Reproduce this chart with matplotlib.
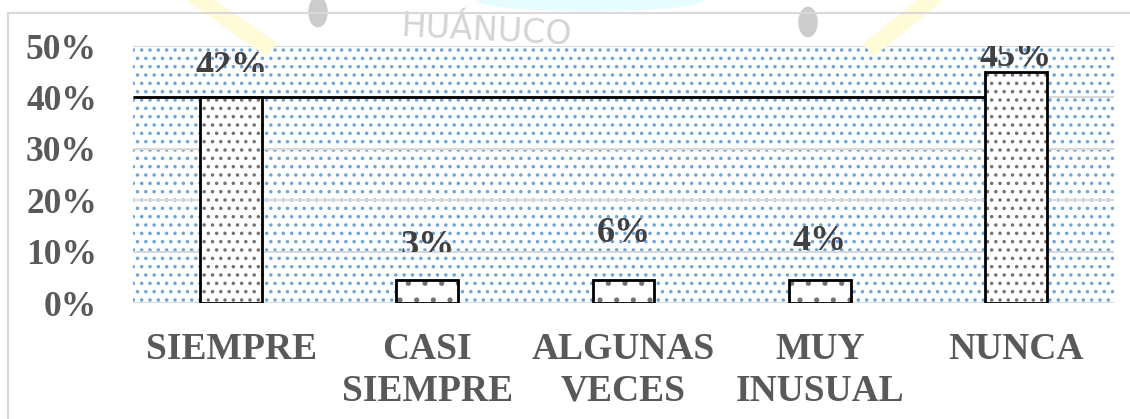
"""
bar chart: frecuencia de respuestas
"""
import matplotlib
matplotlib.use("Agg")
import matplotlib.pyplot as plt
from matplotlib.patches import Rectangle, Ellipse

categories = ["SIEMPRE", "CASI\nSIEMPRE", "ALGUNAS\nVECES", "MUY\nINUSUAL", "NUNCA"]
bar_heights = [40, 4.5, 4.5, 4.5, 45]
label_values = [42, 3, 6, 4, 45]
label_y = [44.2, 9.4, 11.9, 10.3, 46.1]
yticks = [0, 10, 20, 30, 40, 50]
ref_line = 40

fig = plt.figure(figsize=(11.3, 4.19), dpi=100)
plt.rcParams["font.family"] = ["Liberation Serif", "DejaVu Serif"]
plt.rcParams["hatch.linewidth"] = 1.3

# faint watermark bits behind the chart
fig.patches.append(Ellipse((318 / 1130, 1 - 12 / 419), 0.016, 0.07, transform=fig.transFigure,
                           color="#cccccc", zorder=0))
fig.patches.append(Ellipse((808 / 1130, 1 - 22 / 419), 0.016, 0.07, transform=fig.transFigure,
                           color="#cccccc", zorder=0))
fig.patches.append(Ellipse((590 / 1130, 1.0), 0.2, 0.05, transform=fig.transFigure,
                           color="#e6fcff", zorder=0))
fig.lines.append(plt.Line2D([200 / 1130, 265 / 1130], [1.0, 1 - 45 / 419], transform=fig.transFigure,
                            color="#fffbd6", lw=12, zorder=0))
fig.lines.append(plt.Line2D([930 / 1130, 875 / 1130], [1.0, 1 - 45 / 419], transform=fig.transFigure,
                            color="#fffbd6", lw=12, zorder=0))
fig.text(400 / 1130, 1 - 45 / 419, "HUÁNUCO", fontsize=24, color="#d4d4d4",
         family="DejaVu Sans", rotation=-3, zorder=0)

# outer chart border
fig.lines.append(plt.Line2D([8 / 1130, 1.0], [1 - 13 / 419, 1 - 13 / 419], transform=fig.transFigure,
                            color="#d9d9d9", lw=1.5, zorder=1))
fig.lines.append(plt.Line2D([8 / 1130, 8 / 1130], [0, 1 - 13 / 419], transform=fig.transFigure,
                            color="#d9d9d9", lw=1.5, zorder=1))

ax = fig.add_axes([133 / 1130, 1 - 303 / 419, 981 / 1130, 257 / 419])
ax.set_facecolor("white")
ax.add_patch(Rectangle((0, 0), 1, 1, transform=ax.transAxes, facecolor="none",
                       edgecolor="#6aa5dc", hatch="..", lw=0, zorder=0))

x = range(len(categories))
width = 0.316
ax.yaxis.grid(True, color="#d9d9d9", lw=1.5, zorder=1)
ax.set_axisbelow(True)
bars = ax.bar(x, bar_heights, width=width, color="white", edgecolor="black", lw=2, zorder=3)
for b, h in zip(bars, bar_heights):
    b.set_hatch(".." if h > 20 else ".")
    b._hatch_color = (0.45, 0.45, 0.45, 1.0)

ax.hlines(ref_line, -0.5, len(categories) - 1 - width / 2, color="black", lw=2, zorder=4)

# some labels are cut off in the original
clip_floor = [45, 10, 0, 0, 0]
for i, (v, yl) in enumerate(zip(label_values, label_y)):
    t = ax.text(i, yl, f"{v}%", ha="center", va="baseline", fontsize=26, fontweight="bold",
                color="#404040", zorder=5)
    t.set_clip_path(Rectangle((-0.5, clip_floor[i]), 5, 50 - clip_floor[i], transform=ax.transData))
    t.set_clip_on(True)

ax.set_xlim(-0.5, len(categories) - 0.5)
ax.set_ylim(0, 50)
ax.set_yticks(yticks)
ax.set_yticklabels([f"{t}%" for t in yticks])
ax.set_xticks(list(x))
ax.set_xticklabels(categories, linespacing=1.25)
ax.tick_params(axis="y", length=0, pad=26, labelsize=25.5, labelcolor="#595959")
ax.tick_params(axis="x", length=0, pad=21, labelsize=27, labelcolor="#595959")
for lab in ax.get_xticklabels() + ax.get_yticklabels():
    lab.set_fontweight("bold")
for s in ax.spines.values():
    s.set_visible(False)

fig.savefig("out.png", dpi=100)
